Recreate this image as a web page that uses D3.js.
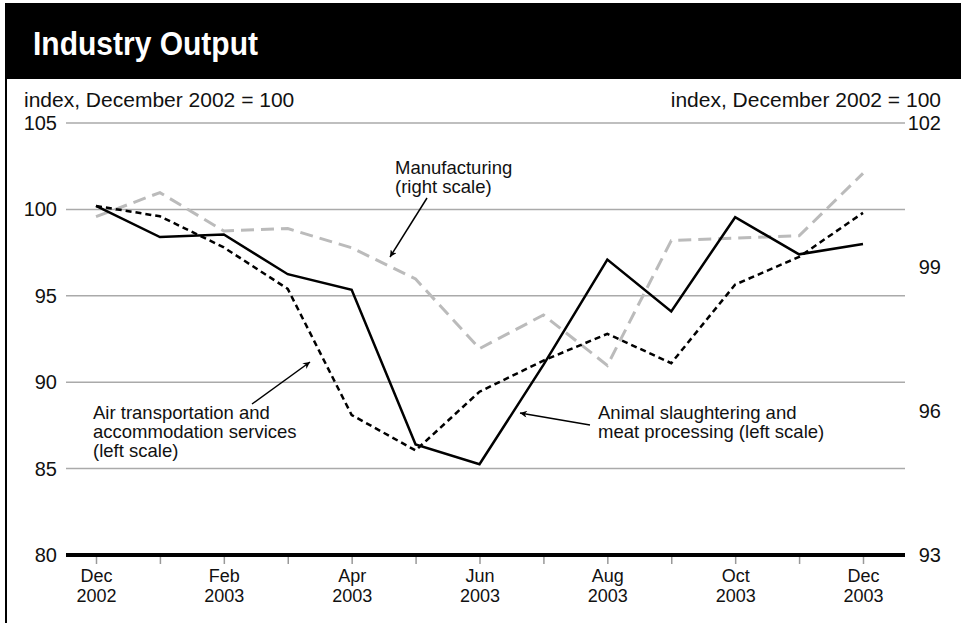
<!DOCTYPE html>
<html lang="en">
<head>
  <meta charset="UTF-8">
  <title>Industry Output</title>
  <script src="https://cdn.jsdelivr.net/npm/d3@7/dist/d3.min.js"></script>
  <style>
    body { margin: 0; background: #fff; }
    text { font-family: "Liberation Sans", Arial, Helvetica, sans-serif; fill: #111; }
  </style>
</head>
<body>
  <script>
    // months Dec 2002 .. Dec 2003
    const months = ['Dec 2002', 'Jan 2003', 'Feb 2003', 'Mar 2003', 'Apr 2003', 'May 2003', 'Jun 2003',
                    'Jul 2003', 'Aug 2003', 'Sep 2003', 'Oct 2003', 'Nov 2003', 'Dec 2003']
    const animal = [100.2, 98.4, 98.55, 96.25, 95.35, 86.4, 85.25, 91.0, 97.1, 94.1, 99.55, 97.4, 98.0]
    const air = [100.2, 99.6, 97.8, 95.4, 88.1, 86.05, 89.45, 91.25, 92.8, 91.1, 95.65, 97.25, 99.8]
    const manufacturing = [100.05, 100.55, 99.75, 99.8, 99.4, 98.75, 97.3, 98.0, 96.95, 99.55, 99.6, 99.65, 100.95]
    const leftTicks = [80, 85, 90, 95, 100, 105]
    const rightTicks = [93, 96, 99, 102]

    const W = 961, H = 623
    const plotL = 66, plotR = 905

    const svg = d3.select('body').append('svg')
      .attr('width', W)
      .attr('height', H)

    // title bar
    svg.append('rect')
      .attr('x', 5).attr('y', 3)
      .attr('width', W - 5).attr('height', 76)
      .attr('fill', '#000')
    svg.append('line')
      .attr('x1', 6).attr('x2', 6)
      .attr('y1', 3).attr('y2', H)
      .attr('stroke', '#000').attr('stroke-width', 2)
    svg.append('text')
      .attr('x', 33).attr('y', 55)
      .attr('textLength', 225)
      .attr('lengthAdjust', 'spacingAndGlyphs')
      .style('font-family', '"Liberation Sans", Arial, sans-serif')
      .style('font-weight', 'bold')
      .style('font-size', '33px')
      .style('fill', '#fff')
      .text('Industry Output')

    // axis titles
    svg.append('text')
      .attr('x', 24).attr('y', 107)
      .style('font-size', '21px')
      .text('index, December 2002 = 100')
    svg.append('text')
      .attr('x', 941).attr('y', 107)
      .attr('text-anchor', 'end')
      .style('font-size', '21px')
      .text('index, December 2002 = 100')

    const x = d3.scaleLinear().domain([0, months.length - 1]).range([96, 863])
    const yL = d3.scaleLinear().domain([80, 105]).range([555, 123])
    const yR = d3.scaleLinear().domain([93, 102]).range([555, 123])

    // gridlines
    svg.append('g')
      .selectAll('line')
      .data(leftTicks.filter(d => d > 80))
      .join('line')
      .attr('x1', plotL).attr('x2', plotR)
      .attr('y1', d => yL(d)).attr('y2', d => yL(d))
      .attr('stroke', '#aaa')
      .attr('stroke-width', 1.5)

    // left axis labels
    const gL = svg.append('g')
      .attr('transform', `translate(${plotL},0)`)
      .call(d3.axisLeft(yL).tickValues(leftTicks).tickSize(0).tickPadding(9))
    gL.select('.domain').remove()
    gL.selectAll('text').style('font-size', '20px').attr('fill', '#111')

    // right axis labels
    const gR = svg.append('g')
      .attr('transform', `translate(${plotR},0)`)
      .call(d3.axisRight(yR).tickValues(rightTicks).tickSize(0))
    gR.select('.domain').remove()
    gR.selectAll('text')
      .attr('x', 36)
      .attr('text-anchor', 'end')
      .attr('fill', '#111')
      .style('font-size', '20px')

    // bottom axis
    const gX = svg.append('g')
      .attr('transform', `translate(0,${yL(80)})`)
      .call(d3.axisBottom(x).ticks(months.length).tickSize(9).tickFormat(''))
    gX.select('.domain').remove()
    gX.selectAll('.tick line').attr('stroke', '#999').attr('stroke-width', 1.5)
    gX.selectAll('.tick')
      .filter(d => d % 2 === 0)
      .append('text')
      .attr('fill', '#111')
      .style('font-size', '18px')
      .attr('text-anchor', 'middle')
      .each(function (d) {
        const [m, yr] = months[d].split(' ')
        d3.select(this).append('tspan').attr('x', 0).attr('y', 27).text(m)
        d3.select(this).append('tspan').attr('x', 0).attr('y', 47).text(yr)
      })

    svg.append('line')
      .attr('x1', plotL).attr('x2', plotR)
      .attr('y1', yL(80)).attr('y2', yL(80))
      .attr('stroke', '#000')
      .attr('stroke-width', 4)

    // lines
    const lineL = d3.line().x((d, i) => x(i)).y(d => yL(d))
    const lineR = d3.line().x((d, i) => x(i)).y(d => yR(d))

    svg.append('path')
      .datum(manufacturing)
      .attr('d', lineR)
      .attr('fill', 'none')
      .attr('stroke', '#bbb')
      .attr('stroke-width', 3)
      .attr('stroke-dasharray', '13,7')

    svg.append('path')
      .datum(air)
      .attr('d', lineL)
      .attr('fill', 'none')
      .attr('stroke', '#000')
      .attr('stroke-width', 2.5)
      .attr('stroke-dasharray', '6,4')

    svg.append('path')
      .datum(animal)
      .attr('d', lineL)
      .attr('fill', 'none')
      .attr('stroke', '#000')
      .attr('stroke-width', 2.5)
      .attr('stroke-linejoin', 'miter')

    // annotations
    svg.append('defs').append('marker')
      .attr('id', 'arrow')
      .attr('viewBox', '0 0 10 10')
      .attr('refX', 10).attr('refY', 5)
      .attr('markerWidth', 10).attr('markerHeight', 7)
      .attr('markerUnits', 'userSpaceOnUse')
      .attr('orient', 'auto')
      .append('path')
      .attr('d', 'M0,0 L10,5 L0,10 L3,5 Z')
      .attr('fill', '#000')

    function note(lines, tx, ty, from, to) {
      const t = svg.append('text').style('font-size', '18.5px')
      lines.forEach((s, i) => {
        t.append('tspan').attr('x', tx).attr('y', ty + i * 19).text(s)
      })
      svg.append('line')
        .attr('x1', from[0]).attr('y1', from[1])
        .attr('x2', to[0]).attr('y2', to[1])
        .attr('stroke', '#000')
        .attr('stroke-width', 1.5)
        .attr('marker-end', 'url(#arrow)')
    }

    note(['Manufacturing', '(right scale)'], 395, 174, [427, 198], [390, 257])
    note(['Air transportation and', 'accommodation services', '(left scale)'], 93, 419, [252, 404], [310, 362])
    note(['Animal slaughtering and', 'meat processing (left scale)'], 598, 419, [590, 425], [520, 413])
  </script>
</body>
</html>
